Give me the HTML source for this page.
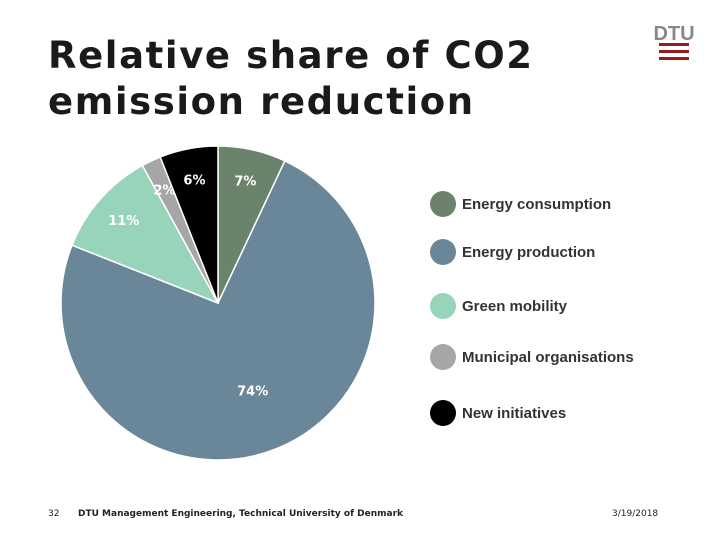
<!DOCTYPE html>
<html><head><meta charset="utf-8"><style>
body{margin:0;width:720px;height:540px;background:#fff;overflow:hidden;position:relative;font-family:"DejaVu Sans","Liberation Sans",sans-serif}
.t{position:absolute;left:48px;top:33px;font-size:37px;font-weight:bold;line-height:46px;color:#1a1a1a;letter-spacing:1.6px}
.f{position:absolute;top:509px;font-size:9px;color:#222}
</style></head><body>
<div class="t">Relative share of CO2<br>emission reduction</div>
<svg width="720" height="540" style="position:absolute;left:0;top:0">
<g>
<text x="674" y="40" font-size="20" font-weight="bold" font-family="Liberation Sans Narrow,Liberation Sans,sans-serif" fill="#888" text-anchor="middle">DTU</text>
<g fill="#9b1c1c"><rect x="659" y="43" width="30" height="3"/><rect x="659" y="50" width="30" height="3"/><rect x="659" y="57" width="30" height="3"/></g>
</g>
<g id="pie"></g>
<g id="legend"></g>
</svg>
<div class="f" style="left:48px">32</div>
<div class="f" style="left:78px;font-weight:bold">DTU Management Engineering, Technical University of Denmark</div>
<div class="f" style="left:612px">3/19/2018</div>
<script>
const categories=["Energy consumption","Energy production","Green mobility","Municipal organisations","New initiatives"];
const values=[7,74,11,2,6];
const colors=["#6b826b","#6a8799","#98d4b9","#a6a6a6","#000000"];
const labelColors=["#fff","#fff","#fff","#fff","#fff"];
const ns="http://www.w3.org/2000/svg";
const cx=218,cy=303,r=157;
const pie=document.getElementById('pie'),leg=document.getElementById('legend');
const total=values.reduce((a,b)=>a+b,0);
let a0=0;
values.forEach((v,i)=>{
 const a1=a0+v/total*2*Math.PI;
 const p=(a)=>[cx+r*Math.sin(a),cy-r*Math.cos(a)];
 const [x0,y0]=p(a0),[x1,y1]=p(a1);
 const path=document.createElementNS(ns,'path');
 path.setAttribute('d',`M${cx},${cy}L${x0},${y0}A${r},${r} 0 ${a1-a0>Math.PI?1:0} 1 ${x1},${y1}Z`);
 path.setAttribute('fill',colors[i]);path.setAttribute('stroke','#fff');path.setAttribute('stroke-width','1.5');
 
 
 pie.appendChild(path);
 const am=(a0+a1)/2, lr=v>50?0.6:0.8;
 const t=document.createElementNS(ns,'text');
 t.setAttribute('x',cx+r*lr*Math.sin(am));t.setAttribute('y',cy-r*lr*Math.cos(am)+5);
 t.setAttribute('text-anchor','middle');t.setAttribute('font-size','13');t.setAttribute('font-weight','bold');t.setAttribute('fill',labelColors[i]);
 
 
 t.textContent=v+'%';pie.appendChild(t);
 a0=a1;
});
const ly=[204,252,306,357,413];
categories.forEach((c,i)=>{
 const g=document.createElementNS(ns,'g');
 
 
 const ci=document.createElementNS(ns,'circle');
 ci.setAttribute('cx',443);ci.setAttribute('cy',ly[i]);ci.setAttribute('r',13);ci.setAttribute('fill',colors[i]);
 const t=document.createElementNS(ns,'text');
 t.setAttribute('x',462);t.setAttribute('y',ly[i]+5);t.setAttribute('font-size','15');t.setAttribute('font-weight','bold');t.setAttribute('fill','#333');
 t.setAttribute('font-family','Liberation Sans,sans-serif');
 t.textContent=c;g.appendChild(ci);g.appendChild(t);leg.appendChild(g);
});
</script>
</body></html>
